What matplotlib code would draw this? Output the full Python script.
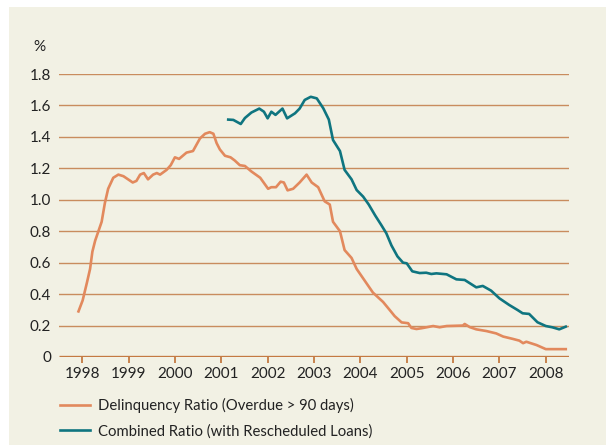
import numpy as np
import matplotlib
matplotlib.use("Agg")
import matplotlib.pyplot as plt
from matplotlib.patches import Rectangle

# Delinquency ratio (overdue > 90 days), decimal years
delinq_x = [1997.92, 1998.01, 1998.10, 1998.17, 1998.22, 1998.28, 1998.35, 1998.42, 1998.49,
            1998.56, 1998.67, 1998.78, 1998.89, 1998.99, 1999.09, 1999.17, 1999.25, 1999.33,
            1999.42, 1999.53, 1999.61, 1999.68, 1999.82, 1999.91, 2000.00, 2000.09, 2000.25,
            2000.39, 2000.54, 2000.65, 2000.75, 2000.83, 2000.90, 2000.97, 2001.08, 2001.20,
            2001.29, 2001.40, 2001.51, 2001.65, 2001.84, 2002.01, 2002.08, 2002.18, 2002.28,
            2002.35, 2002.43, 2002.55, 2002.69, 2002.84, 2002.95, 2003.09, 2003.23, 2003.34,
            2003.41, 2003.56, 2003.66, 2003.81, 2003.92, 2004.06, 2004.27, 2004.49, 2004.63,
            2004.74, 2004.89, 2005.03, 2005.10, 2005.21, 2005.32, 2005.57, 2005.71, 2005.86,
            2006.21, 2006.25, 2006.36, 2006.50, 2006.72, 2006.93, 2007.08, 2007.29, 2007.43,
            2007.51, 2007.58, 2007.80, 2008.00, 2008.43]
delinq_y = [0.29, 0.36, 0.47, 0.56, 0.67, 0.74, 0.80, 0.86, 0.98,
            1.07, 1.14, 1.16, 1.15, 1.13, 1.11, 1.12, 1.16, 1.17,
            1.13, 1.16, 1.17, 1.16, 1.19, 1.22, 1.27, 1.26, 1.30,
            1.31, 1.39, 1.42, 1.43, 1.42, 1.36, 1.32, 1.28, 1.27,
            1.25, 1.22, 1.215, 1.18, 1.14, 1.07, 1.08, 1.08, 1.115,
            1.11, 1.06, 1.07, 1.11, 1.16, 1.11, 1.08, 0.99, 0.97,
            0.86, 0.80, 0.68, 0.63, 0.56, 0.50, 0.41, 0.35, 0.30,
            0.26, 0.22, 0.215, 0.185, 0.178, 0.183, 0.197, 0.189, 0.197,
            0.20, 0.21, 0.19, 0.176, 0.165, 0.15, 0.13, 0.115, 0.104,
            0.088, 0.097, 0.076, 0.05, 0.05]

# Combined ratio (with rescheduled loans)
comb_x = [2001.15, 2001.26, 2001.42, 2001.51, 2001.65, 2001.82, 2001.92, 2002.00, 2002.08,
          2002.17, 2002.32, 2002.42, 2002.59, 2002.69, 2002.80, 2002.93, 2003.06, 2003.20,
          2003.32, 2003.41, 2003.56, 2003.66, 2003.81, 2003.92, 2004.06, 2004.18, 2004.32,
          2004.45, 2004.56, 2004.67, 2004.80, 2004.92, 2005.00, 2005.12, 2005.28, 2005.42,
          2005.53, 2005.64, 2005.86, 2006.07, 2006.25, 2006.50, 2006.64, 2006.82, 2007.00,
          2007.21, 2007.39, 2007.50, 2007.64, 2007.82, 2008.00, 2008.14, 2008.29, 2008.43]
comb_y = [1.51, 1.508, 1.482, 1.52, 1.555, 1.58, 1.56, 1.518, 1.56,
          1.54, 1.58, 1.518, 1.55, 1.58, 1.635, 1.655, 1.645, 1.582,
          1.51, 1.38, 1.31, 1.19, 1.13, 1.062, 1.02, 0.97, 0.90,
          0.84, 0.787, 0.71, 0.64, 0.60, 0.596, 0.545, 0.534, 0.536,
          0.528, 0.532, 0.526, 0.494, 0.49, 0.443, 0.452, 0.422, 0.373,
          0.331, 0.299, 0.278, 0.274, 0.221, 0.197, 0.189, 0.176, 0.193]

years = list(range(1998, 2009))
yticks = [0, 0.2, 0.4, 0.6, 0.8, 1.0, 1.2, 1.4, 1.6, 1.8]
ytick_labels = ["0", "0.2", "0.4", "0.6", "0.8", "1.0", "1.2", "1.4", "1.6", "1.8"]
labels = ["Delinquency Ratio (Overdue > 90 days)", "Combined Ratio (with Rescheduled Loans)"]

bg = "#f2f1e4"
grid_c = "#c98c5e"
axis_c = "#c47a42"
orange = "#e2895d"
teal = "#0f7580"

plt.rcParams['font.family'] = ['Lato', 'DejaVu Sans']

W, H = 606, 445
fig = plt.figure(figsize=(W / 100, H / 100), dpi=100, facecolor="white")
fig.patches.append(Rectangle((9 / W, 0), 1, 1 - 7 / H, transform=fig.transFigure,
                             facecolor=bg, edgecolor="none", zorder=-10))

ax = fig.add_axes([59 / W, (H - 357) / H, 510 / W, 283 / H])
ax.set_facecolor("none")
ax.set_xlim(1997.5, 2008.5)
ax.set_ylim(0, 1.8)

for v in yticks[1:]:
    ax.axhline(v, color=grid_c, lw=1.0, zorder=1)
ax.axhline(0, color=axis_c, lw=2.4, zorder=3, solid_capstyle="butt")

ax.plot(delinq_x, delinq_y, color=orange, lw=1.9, zorder=4, label=labels[0])
ax.plot(comb_x, comb_y, color=teal, lw=1.9, zorder=5, label=labels[1])

for s in ax.spines.values():
    s.set_visible(False)

ax.set_yticks(yticks)
ax.set_yticklabels(ytick_labels)
ax.tick_params(axis="y", length=0, pad=5.5, labelsize=11, labelcolor="#222222")
ax.set_xticks(years)
ax.set_xticklabels([str(y) for y in years])
ax.tick_params(axis="x", direction="out", length=4.5, width=1.3, color=axis_c,
               pad=3, labelsize=11, labelcolor="#222222")

fig.text(39 / W, 1 - 46.7 / H, "%", ha="center", va="center", fontsize=11, color="#222222")

fig.legend(loc="upper left", bbox_to_anchor=(60 / W, 1 - 398 / H), frameon=False,
           fontsize=10.7, handlelength=2.0, handletextpad=0.55, labelspacing=0.75,
           borderpad=0, borderaxespad=0, labelcolor="#222222")

fig.savefig("out.png", dpi=100, facecolor=fig.get_facecolor())
